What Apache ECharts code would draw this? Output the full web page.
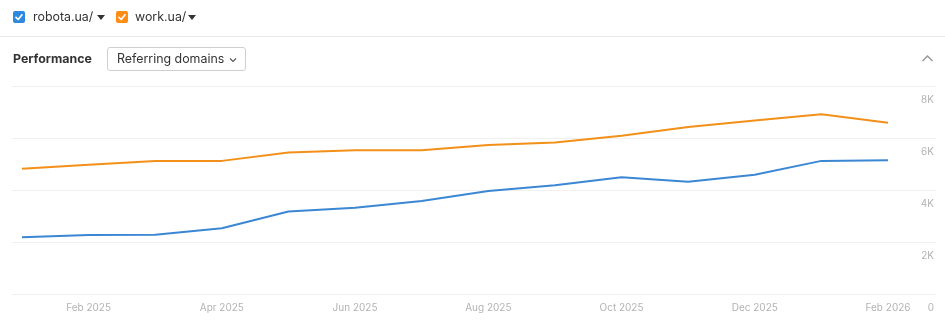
<!DOCTYPE html>
<html>
<head>
<meta charset="utf-8">
<script src="https://cdn.jsdelivr.net/npm/echarts@6/dist/echarts.min.js"></script>
<style>
  html, body { margin: 0; padding: 0; background: #fff; font-family: Inter, "Noto Sans", sans-serif; }
  #wrap { position: relative; width: 945px; height: 322px; overflow: hidden; }
  #chart { position: absolute; left: 0; top: 0; width: 945px; height: 322px; }
  svg { display: block; }
  .hdr { position: absolute; font-size: 12.4px; color: #333; white-space: nowrap; line-height: 16px; }
  .cb { position: absolute; width: 12px; height: 12px; border-radius: 2px; top: 11px; }
  .sep { position: absolute; left: 0; top: 36px; width: 945px; height: 1px; background: #e8e8e8; }
  .dd { position: absolute; left: 107px; top: 47px; width: 137px; height: 22px; border: 1px solid #cfcfcf; border-radius: 3px; font-size: 12.4px; color: #333; line-height: 22px; }
</style>
</head>
<body>
<div id="wrap">
  <div id="chart"></div>
  <div class="cb" style="left:13px;background:#2d88e0;">
    <svg width="12" height="12"><polyline points="3,6.3 5.2,8.5 9,3.8" fill="none" stroke="#fff" stroke-width="1.7" stroke-linecap="round" stroke-linejoin="round"/></svg>
  </div>
  <div class="hdr" style="left:33px;top:9px;">robota.ua/</div>
  <svg style="position:absolute;left:97px;top:15px" width="8" height="5"><polygon points="0,0 8,0 4,5" fill="#333"/></svg>
  <div class="cb" style="left:116px;background:#ff8c14;">
    <svg width="12" height="12"><polyline points="3,6.3 5.2,8.5 9,3.8" fill="none" stroke="#fff" stroke-width="1.7" stroke-linecap="round" stroke-linejoin="round"/></svg>
  </div>
  <div class="hdr" style="left:135px;top:9px;">work.ua/</div>
  <svg style="position:absolute;left:188px;top:15px" width="8" height="5"><polygon points="0,0 8,0 4,5" fill="#333"/></svg>
  <div class="sep"></div>
  <div class="hdr" style="left:13px;top:51px;font-weight:700;">Performance</div>
  <div class="dd"><span style="position:absolute;left:9px;top:0;">Referring domains</span>
    <svg style="position:absolute;left:121px;top:9px" width="8" height="6"><polyline points="1,1.5 4,4.5 7,1.5" fill="none" stroke="#555" stroke-width="1.1"/></svg>
  </div>
  <svg style="position:absolute;left:921px;top:54px" width="13" height="9"><polyline points="1.5,7 6.5,2 11.5,7" fill="none" stroke="#999" stroke-width="1.5"/></svg>
</div>
<script>
const months = ['Jan 2025','Feb 2025','Mar 2025','Apr 2025','May 2025','Jun 2025','Jul 2025','Aug 2025','Sep 2025','Oct 2025','Nov 2025','Dec 2025','Jan 2026','Feb 2026'];
const robota = [2180, 2270, 2280, 2530, 3170, 3320, 3580, 3960, 4180, 4490, 4320, 4590, 5120, 5140];
const work   = [4820, 4970, 5120, 5120, 5440, 5530, 5530, 5730, 5830, 6090, 6420, 6670, 6910, 6590];
const yTicks = { min: 0, max: 8000, interval: 2000 };

const chart = echarts.init(document.getElementById('chart'));
const fmtK = v => v === 0 ? '0' : (v / 1000) + 'K';
chart.setOption({
  animation: false,
  grid: [
    { left: 12, right: 9, top: 86, bottom: 28 },
    { left: 22, right: 57, top: 86, bottom: 28 }
  ],
  xAxis: [
    { gridIndex: 0, type: 'value', min: 0, max: 1, show: false },
    { gridIndex: 1, type: 'category', data: months, boundaryGap: false,
      axisLine: { show: false }, axisTick: { show: false },
      axisLabel: { interval: 0, formatter: (v, i) => (i % 2 === 1 ? v : ''),
        color: '#b3b3b3', fontSize: 10, fontFamily: 'Inter', margin: 9 } }
  ],
  yAxis: [
    { gridIndex: 0, type: 'value', position: 'right', min: yTicks.min, max: yTicks.max, interval: yTicks.interval,
      axisLine: { show: false }, axisTick: { show: false },
      splitLine: { lineStyle: { color: '#f0f0f0', width: 1 } },
      axisLabel: { inside: true, margin: 2, verticalAlign: 'top', padding: [9, 0, 0, 0],
        formatter: fmtK, color: '#b3b3b3', fontSize: 10, fontFamily: 'Inter' } },
    { gridIndex: 1, type: 'value', min: yTicks.min, max: yTicks.max, interval: yTicks.interval, show: false }
  ],
  series: [
    { name: 'work.ua/', type: 'line', xAxisIndex: 1, yAxisIndex: 1, data: work, showSymbol: false,
      lineStyle: { color: '#f39019', width: 2 }, itemStyle: { color: '#f39019' } },
    { name: 'robota.ua/', type: 'line', xAxisIndex: 1, yAxisIndex: 1, data: robota, showSymbol: false,
      lineStyle: { color: '#3b87d4', width: 2 }, itemStyle: { color: '#3b87d4' } }
  ]
});
</script>
</body>
</html>
